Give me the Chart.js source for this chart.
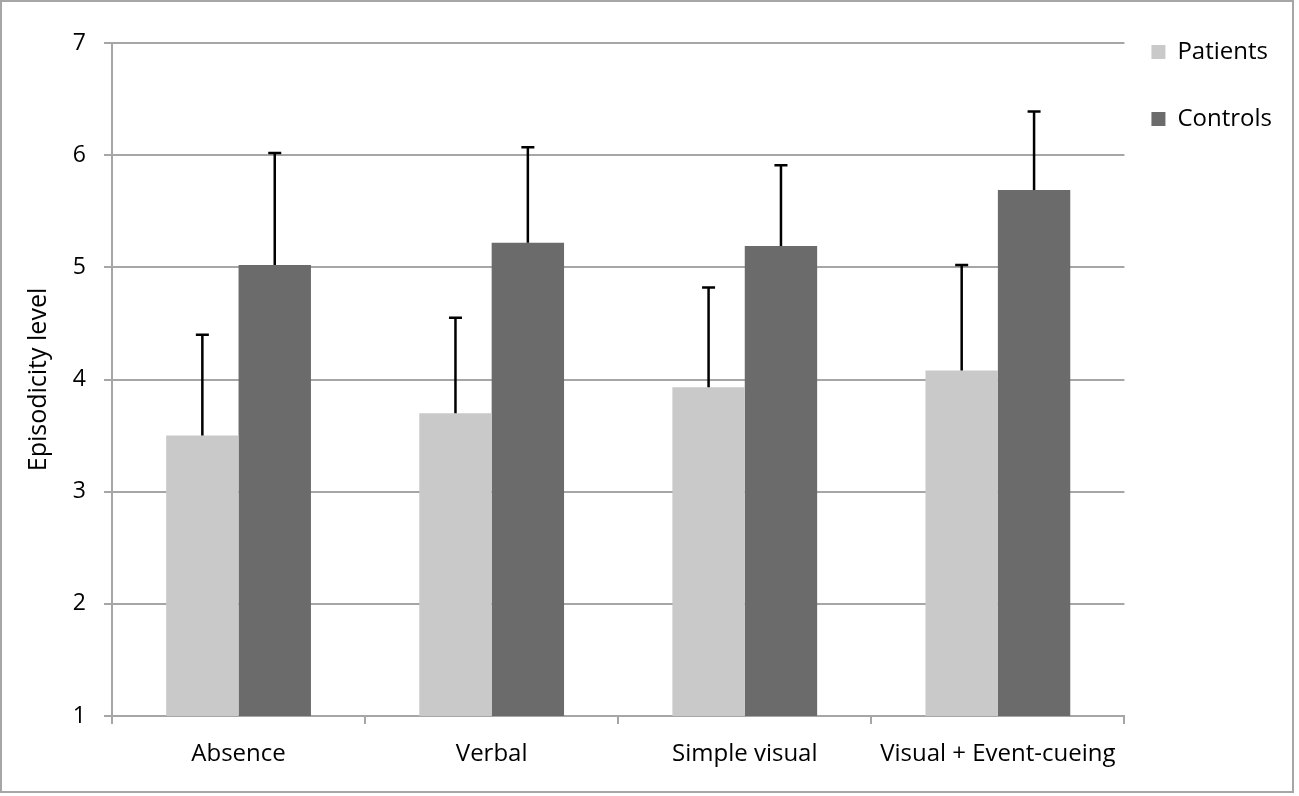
<!DOCTYPE html>
<html lang="en">
<head>
    <meta charset="UTF-8">
    <title>Episodicity level</title>
    <script src="https://cdn.jsdelivr.net/npm/chart.js"></script>
    <style>
        html, body { margin: 0; padding: 0; background: #fff; }
        #frame {
            position: absolute; left: 0; top: 0;
            width: 1290px; height: 789px;
            border: 2px solid #a6a6a6;
        }
        canvas { display: block; }
    </style>
</head>
<body>
    <div id="frame"><canvas id="episodicityChart" width="1290" height="789"></canvas></div>

    <script>
        // Values
        const conditions = ['Absence', 'Verbal', 'Simple visual', 'Visual + Event-cueing'];
        const patientsMean = [3.50, 3.70, 3.93, 4.08];
        const patientsErr = [0.90, 0.85, 0.89, 0.94];
        const controlsMean = [5.02, 5.22, 5.19, 5.69];
        const controlsErr = [1.00, 0.85, 0.72, 0.70];
        const yTicks = [1, 2, 3, 4, 5, 6, 7];

        const fontFamily = '"Open Sans", "Noto Sans", sans-serif';
        const gridGray = '#a6a6a6';

        // Draw the positive-only error bars with a small cap
        const errorBars = {
            id: 'errorBars',
            afterDatasetsDraw(chart) {
                const ctx = chart.ctx;
                const yScale = chart.scales.y;
                chart.data.datasets.forEach((ds, i) => {
                    const meta = chart.getDatasetMeta(i);
                    meta.data.forEach((bar, j) => {
                        const top = yScale.getPixelForValue(ds.data[j] + ds.errors[j]);
                        ctx.save();
                        ctx.strokeStyle = '#000';
                        ctx.lineWidth = 2.5;
                        ctx.beginPath();
                        ctx.moveTo(bar.x, bar.y);
                        ctx.lineTo(bar.x, top);
                        ctx.moveTo(bar.x - 6.5, top);
                        ctx.lineTo(bar.x + 6.5, top);
                        ctx.stroke();
                        ctx.restore();
                    });
                });
            }
        };

        // Legend sits at the top right corner, a bit closer to the plot than Chart.js puts it
        const legendSpot = {
            id: 'legendSpot',
            beforeDraw(chart) {
                const lg = chart.legend;
                lg.left = chart.chartArea.right - 16;
                lg.top = -5;
            }
        };

        new Chart(document.getElementById('episodicityChart'), {
            type: 'bar',
            data: {
                labels: conditions,
                datasets: [{
                    label: 'Patients',
                    data: patientsMean,
                    errors: patientsErr,
                    backgroundColor: '#c9c9c9'
                }, {
                    label: 'Controls',
                    data: controlsMean,
                    errors: controlsErr,
                    backgroundColor: '#6b6b6b'
                }]
            },
            options: {
                responsive: false,
                animation: false,
                datasets: { bar: { categoryPercentage: 0.572, barPercentage: 1.0 } },
                layout: { padding: { top: 0, right: -6, bottom: 0, left: 0 } },
                plugins: {
                    tooltip: { enabled: false },
                    legend: {
                        position: 'right',
                        align: 'start',
                        labels: {
                            boxWidth: 14,
                            boxHeight: 14,
                            padding: 43,
                            color: '#000',
                            font: { family: fontFamily, size: 24 }
                        }
                    }
                },
                scales: {
                    x: {
                        grid: {
                            offset: true,
                            drawOnChartArea: false,
                            tickLength: 8,
                            color: gridGray,
                            lineWidth: 2
                        },
                        border: { color: gridGray, width: 2 },
                        ticks: {
                            color: '#000',
                            padding: 16,
                            maxRotation: 0,
                            font: { family: fontFamily, size: 24 }
                        },
                        afterFit(scale) { scale.height = 75; }
                    },
                    y: {
                        min: 1,
                        max: 7,
                        afterBuildTicks(scale) { scale.ticks = yTicks.map(v => ({ value: v })); },
                        grid: { color: gridGray, lineWidth: 2, tickLength: 8 },
                        border: { color: gridGray, width: 2 },
                        ticks: {
                            color: '#000',
                            padding: 18,
                            font: { family: fontFamily, size: 23 }
                        },
                        title: {
                            display: true,
                            text: 'Episodicity level',
                            color: '#000',
                            padding: { top: 22, bottom: 0 },
                            font: { family: fontFamily, size: 25 }
                        },
                        afterFit(scale) {
                            scale.width = 110;
                            scale.paddingTop = 41;
                        }
                    }
                }
            },
            plugins: [errorBars, legendSpot]
        });
    </script>
</body>
</html>
